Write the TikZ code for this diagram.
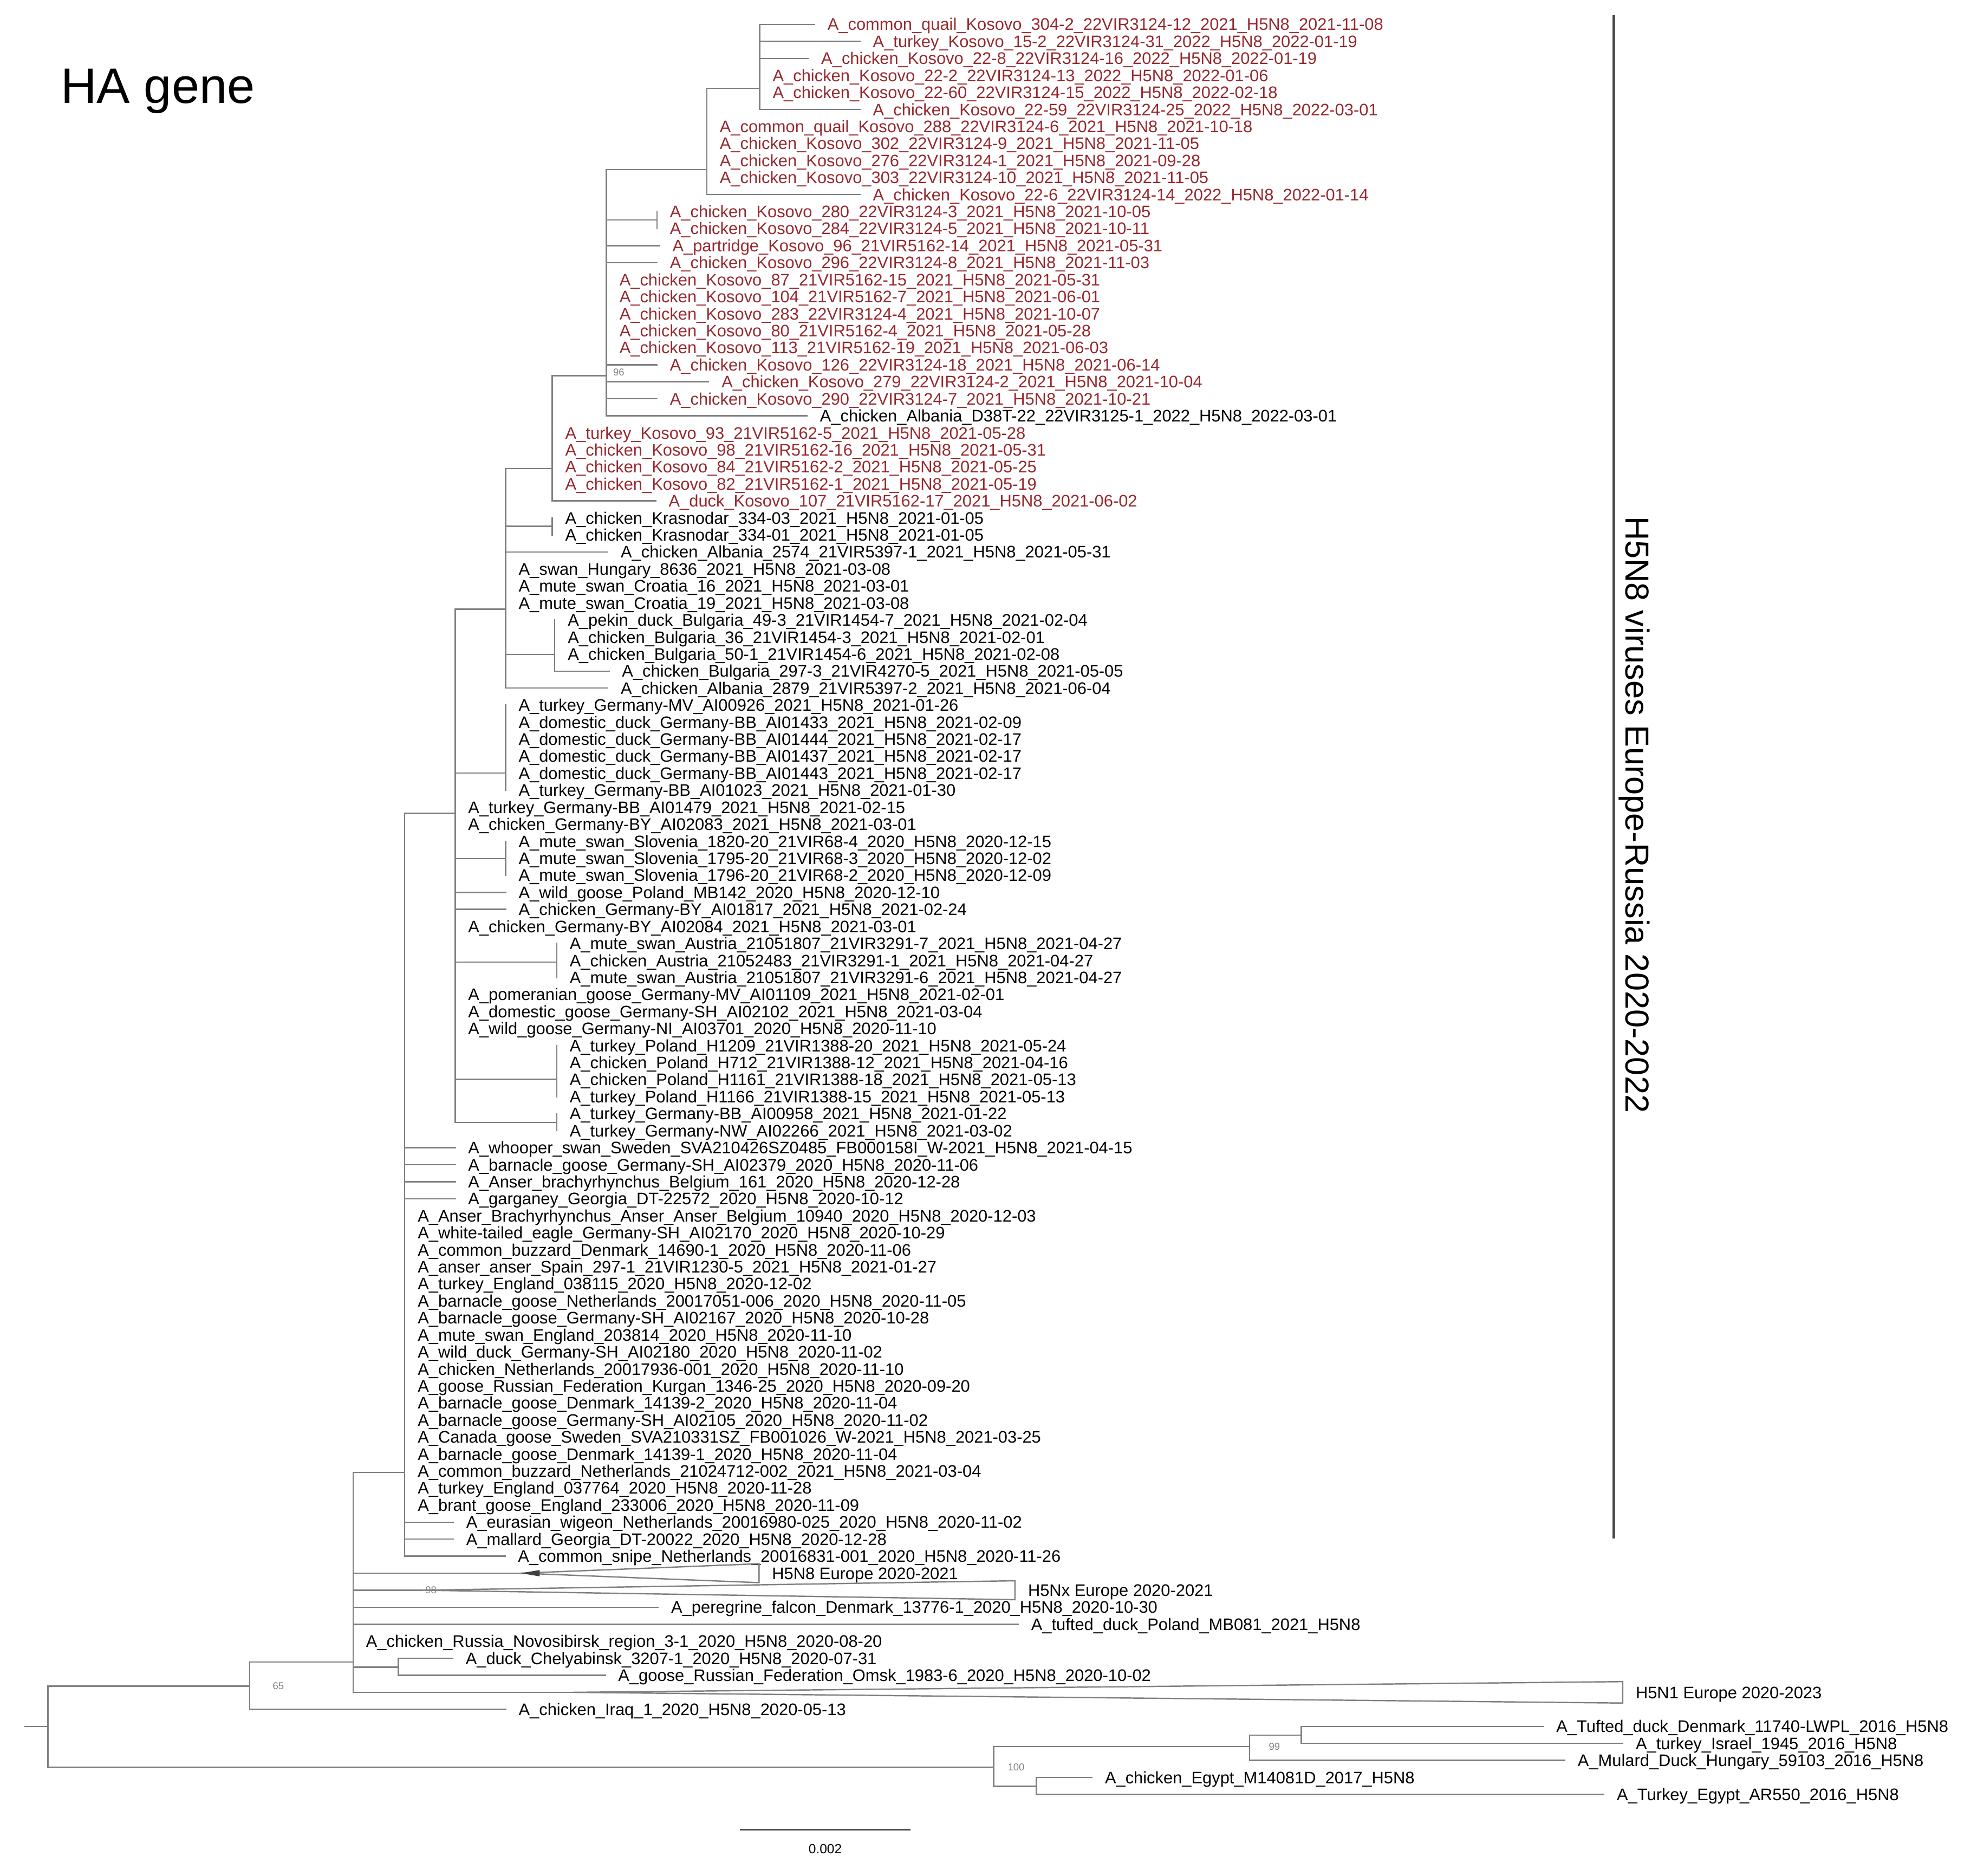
\documentclass[tikz,border=0pt]{standalone}
\usepackage{fontspec}
\setmainfont{Liberation Sans}
\definecolor{kred}{RGB}{150,40,45}
\definecolor{brc}{RGB}{128,128,128}
\newcommand\RY[1]{19.3+(#1-1)*13.497}
\newcommand\lblfont{\fontsize{7.55}{9}\selectfont}
\tikzset{
 lab/.style={anchor=west,inner sep=0pt,text height=5.4pt,text depth=0pt,font=\lblfont},
 kos/.style={text=kred},
 blk/.style={text=black},
 br/.style={draw=brc,line width=0.6pt,line cap=rect},
 tri/.style={draw=brc,line width=0.6pt,line join=miter},
 sup/.style={font=\fontsize{4.5}{5}\selectfont,text=gray,inner sep=0pt},
 barline/.style={draw=black!70,line width=1.1pt},
}
\newcommand\leaf[4]{\coordinate (t#1) at (#2,{\RY{#1}});\node[lab,#3] (l#1) at ([xshift=0.2cm]t#1) {#4};}
\newcommand\br[2]{\draw[br] (#1 |- t#2) -- (t#2);}
\begin{document}
\catcode`\_=12
\begin{tikzpicture}[x=0.02cm,y=-0.02cm]
\useasboundingbox (0,0) rectangle (1568,1487.65);
% ---------------- leaves
\leaf{1}{646}{kos}{A_common_quail_Kosovo_304-2_22VIR3124-12_2021_H5N8_2021-11-08}
\leaf{2}{682}{kos}{A_turkey_Kosovo_15-2_22VIR3124-31_2022_H5N8_2022-01-19}
\leaf{3}{641}{kos}{A_chicken_Kosovo_22-8_22VIR3124-16_2022_H5N8_2022-01-19}
\leaf{4}{602.5}{kos}{A_chicken_Kosovo_22-2_22VIR3124-13_2022_H5N8_2022-01-06}
\leaf{5}{602.5}{kos}{A_chicken_Kosovo_22-60_22VIR3124-15_2022_H5N8_2022-02-18}
\leaf{6}{682}{kos}{A_chicken_Kosovo_22-59_22VIR3124-25_2022_H5N8_2022-03-01}
\leaf{7}{560.5}{kos}{A_common_quail_Kosovo_288_22VIR3124-6_2021_H5N8_2021-10-18}
\leaf{8}{560.5}{kos}{A_chicken_Kosovo_302_22VIR3124-9_2021_H5N8_2021-11-05}
\leaf{9}{560.5}{kos}{A_chicken_Kosovo_276_22VIR3124-1_2021_H5N8_2021-09-28}
\leaf{10}{560.5}{kos}{A_chicken_Kosovo_303_22VIR3124-10_2021_H5N8_2021-11-05}
\leaf{11}{682}{kos}{A_chicken_Kosovo_22-6_22VIR3124-14_2022_H5N8_2022-01-14}
\leaf{12}{521}{kos}{A_chicken_Kosovo_280_22VIR3124-3_2021_H5N8_2021-10-05}
\leaf{13}{521}{kos}{A_chicken_Kosovo_284_22VIR3124-5_2021_H5N8_2021-10-11}
\leaf{14}{523}{kos}{A_partridge_Kosovo_96_21VIR5162-14_2021_H5N8_2021-05-31}
\leaf{15}{521}{kos}{A_chicken_Kosovo_296_22VIR3124-8_2021_H5N8_2021-11-03}
\leaf{16}{481}{kos}{A_chicken_Kosovo_87_21VIR5162-15_2021_H5N8_2021-05-31}
\leaf{17}{481}{kos}{A_chicken_Kosovo_104_21VIR5162-7_2021_H5N8_2021-06-01}
\leaf{18}{481}{kos}{A_chicken_Kosovo_283_22VIR3124-4_2021_H5N8_2021-10-07}
\leaf{19}{481}{kos}{A_chicken_Kosovo_80_21VIR5162-4_2021_H5N8_2021-05-28}
\leaf{20}{481}{kos}{A_chicken_Kosovo_113_21VIR5162-19_2021_H5N8_2021-06-03}
\leaf{21}{521}{kos}{A_chicken_Kosovo_126_22VIR3124-18_2021_H5N8_2021-06-14}
\leaf{22}{562}{kos}{A_chicken_Kosovo_279_22VIR3124-2_2021_H5N8_2021-10-04}
\leaf{23}{521}{kos}{A_chicken_Kosovo_290_22VIR3124-7_2021_H5N8_2021-10-21}
\leaf{24}{640}{blk}{A_chicken_Albania_D38T-22_22VIR3125-1_2022_H5N8_2022-03-01}
\leaf{25}{438}{kos}{A_turkey_Kosovo_93_21VIR5162-5_2021_H5N8_2021-05-28}
\leaf{26}{438}{kos}{A_chicken_Kosovo_98_21VIR5162-16_2021_H5N8_2021-05-31}
\leaf{27}{438}{kos}{A_chicken_Kosovo_84_21VIR5162-2_2021_H5N8_2021-05-25}
\leaf{28}{438}{kos}{A_chicken_Kosovo_82_21VIR5162-1_2021_H5N8_2021-05-19}
\leaf{29}{520}{kos}{A_duck_Kosovo_107_21VIR5162-17_2021_H5N8_2021-06-02}
\leaf{30}{438}{blk}{A_chicken_Krasnodar_334-03_2021_H5N8_2021-01-05}
\leaf{31}{438}{blk}{A_chicken_Krasnodar_334-01_2021_H5N8_2021-01-05}
\leaf{32}{482}{blk}{A_chicken_Albania_2574_21VIR5397-1_2021_H5N8_2021-05-31}
\leaf{33}{401}{blk}{A_swan_Hungary_8636_2021_H5N8_2021-03-08}
\leaf{34}{401}{blk}{A_mute_swan_Croatia_16_2021_H5N8_2021-03-01}
\leaf{35}{401}{blk}{A_mute_swan_Croatia_19_2021_H5N8_2021-03-08}
\leaf{36}{440}{blk}{A_pekin_duck_Bulgaria_49-3_21VIR1454-7_2021_H5N8_2021-02-04}
\leaf{37}{440}{blk}{A_chicken_Bulgaria_36_21VIR1454-3_2021_H5N8_2021-02-01}
\leaf{38}{440}{blk}{A_chicken_Bulgaria_50-1_21VIR1454-6_2021_H5N8_2021-02-08}
\leaf{39}{483}{blk}{A_chicken_Bulgaria_297-3_21VIR4270-5_2021_H5N8_2021-05-05}
\leaf{40}{482}{blk}{A_chicken_Albania_2879_21VIR5397-2_2021_H5N8_2021-06-04}
\leaf{41}{401}{blk}{A_turkey_Germany-MV_AI00926_2021_H5N8_2021-01-26}
\leaf{42}{401}{blk}{A_domestic_duck_Germany-BB_AI01433_2021_H5N8_2021-02-09}
\leaf{43}{401}{blk}{A_domestic_duck_Germany-BB_AI01444_2021_H5N8_2021-02-17}
\leaf{44}{401}{blk}{A_domestic_duck_Germany-BB_AI01437_2021_H5N8_2021-02-17}
\leaf{45}{401}{blk}{A_domestic_duck_Germany-BB_AI01443_2021_H5N8_2021-02-17}
\leaf{46}{401}{blk}{A_turkey_Germany-BB_AI01023_2021_H5N8_2021-01-30}
\leaf{47}{361}{blk}{A_turkey_Germany-BB_AI01479_2021_H5N8_2021-02-15}
\leaf{48}{361}{blk}{A_chicken_Germany-BY_AI02083_2021_H5N8_2021-03-01}
\leaf{49}{401}{blk}{A_mute_swan_Slovenia_1820-20_21VIR68-4_2020_H5N8_2020-12-15}
\leaf{50}{401}{blk}{A_mute_swan_Slovenia_1795-20_21VIR68-3_2020_H5N8_2020-12-02}
\leaf{51}{401}{blk}{A_mute_swan_Slovenia_1796-20_21VIR68-2_2020_H5N8_2020-12-09}
\leaf{52}{401}{blk}{A_wild_goose_Poland_MB142_2020_H5N8_2020-12-10}
\leaf{53}{401}{blk}{A_chicken_Germany-BY_AI01817_2021_H5N8_2021-02-24}
\leaf{54}{361}{blk}{A_chicken_Germany-BY_AI02084_2021_H5N8_2021-03-01}
\leaf{55}{441.5}{blk}{A_mute_swan_Austria_21051807_21VIR3291-7_2021_H5N8_2021-04-27}
\leaf{56}{441.5}{blk}{A_chicken_Austria_21052483_21VIR3291-1_2021_H5N8_2021-04-27}
\leaf{57}{441.5}{blk}{A_mute_swan_Austria_21051807_21VIR3291-6_2021_H5N8_2021-04-27}
\leaf{58}{361}{blk}{A_pomeranian_goose_Germany-MV_AI01109_2021_H5N8_2021-02-01}
\leaf{59}{361}{blk}{A_domestic_goose_Germany-SH_AI02102_2021_H5N8_2021-03-04}
\leaf{60}{361}{blk}{A_wild_goose_Germany-NI_AI03701_2020_H5N8_2020-11-10}
\leaf{61}{441.5}{blk}{A_turkey_Poland_H1209_21VIR1388-20_2021_H5N8_2021-05-24}
\leaf{62}{441.5}{blk}{A_chicken_Poland_H712_21VIR1388-12_2021_H5N8_2021-04-16}
\leaf{63}{441.5}{blk}{A_chicken_Poland_H1161_21VIR1388-18_2021_H5N8_2021-05-13}
\leaf{64}{441.5}{blk}{A_turkey_Poland_H1166_21VIR1388-15_2021_H5N8_2021-05-13}
\leaf{65}{441.5}{blk}{A_turkey_Germany-BB_AI00958_2021_H5N8_2021-01-22}
\leaf{66}{441.5}{blk}{A_turkey_Germany-NW_AI02266_2021_H5N8_2021-03-02}
\leaf{67}{361}{blk}{A_whooper_swan_Sweden_SVA210426SZ0485_FB000158I_W-2021_H5N8_2021-04-15}
\leaf{68}{361}{blk}{A_barnacle_goose_Germany-SH_AI02379_2020_H5N8_2020-11-06}
\leaf{69}{361}{blk}{A_Anser_brachyrhynchus_Belgium_161_2020_H5N8_2020-12-28}
\leaf{70}{361}{blk}{A_garganey_Georgia_DT-22572_2020_H5N8_2020-10-12}
\leaf{71}{321}{blk}{A_Anser_Brachyrhynchus_Anser_Anser_Belgium_10940_2020_H5N8_2020-12-03}
\leaf{72}{321}{blk}{A_white-tailed_eagle_Germany-SH_AI02170_2020_H5N8_2020-10-29}
\leaf{73}{321}{blk}{A_common_buzzard_Denmark_14690-1_2020_H5N8_2020-11-06}
\leaf{74}{321}{blk}{A_anser_anser_Spain_297-1_21VIR1230-5_2021_H5N8_2021-01-27}
\leaf{75}{321}{blk}{A_turkey_England_038115_2020_H5N8_2020-12-02}
\leaf{76}{321}{blk}{A_barnacle_goose_Netherlands_20017051-006_2020_H5N8_2020-11-05}
\leaf{77}{321}{blk}{A_barnacle_goose_Germany-SH_AI02167_2020_H5N8_2020-10-28}
\leaf{78}{321}{blk}{A_mute_swan_England_203814_2020_H5N8_2020-11-10}
\leaf{79}{321}{blk}{A_wild_duck_Germany-SH_AI02180_2020_H5N8_2020-11-02}
\leaf{80}{321}{blk}{A_chicken_Netherlands_20017936-001_2020_H5N8_2020-11-10}
\leaf{81}{321}{blk}{A_goose_Russian_Federation_Kurgan_1346-25_2020_H5N8_2020-09-20}
\leaf{82}{321}{blk}{A_barnacle_goose_Denmark_14139-2_2020_H5N8_2020-11-04}
\leaf{83}{321}{blk}{A_barnacle_goose_Germany-SH_AI02105_2020_H5N8_2020-11-02}
\leaf{84}{321}{blk}{A_Canada_goose_Sweden_SVA210331SZ_FB001026_W-2021_H5N8_2021-03-25}
\leaf{85}{321}{blk}{A_barnacle_goose_Denmark_14139-1_2020_H5N8_2020-11-04}
\leaf{86}{321}{blk}{A_common_buzzard_Netherlands_21024712-002_2021_H5N8_2021-03-04}
\leaf{87}{321}{blk}{A_turkey_England_037764_2020_H5N8_2020-11-28}
\leaf{88}{321}{blk}{A_brant_goose_England_233006_2020_H5N8_2020-11-09}
\leaf{89}{359.5}{blk}{A_eurasian_wigeon_Netherlands_20016980-025_2020_H5N8_2020-11-02}
\leaf{90}{359.5}{blk}{A_mallard_Georgia_DT-20022_2020_H5N8_2020-12-28}
\leaf{91}{400.5}{blk}{A_common_snipe_Netherlands_20016831-001_2020_H5N8_2020-11-26}
\leaf{92}{602}{blk}{H5N8 Europe 2020-2021}
\leaf{93}{805}{blk}{H5Nx Europe 2020-2021}
\leaf{94}{522}{blk}{A_peregrine_falcon_Denmark_13776-1_2020_H5N8_2020-10-30}
\leaf{95}{807.5}{blk}{A_tufted_duck_Poland_MB081_2021_H5N8}
\leaf{96}{280}{blk}{A_chicken_Russia_Novosibirsk_region_3-1_2020_H5N8_2020-08-20}
\leaf{97}{359}{blk}{A_duck_Chelyabinsk_3207-1_2020_H5N8_2020-07-31}
\leaf{98}{480}{blk}{A_goose_Russian_Federation_Omsk_1983-6_2020_H5N8_2020-10-02}
\leaf{99}{1287}{blk}{H5N1 Europe 2020-2023}
\leaf{100}{401}{blk}{A_chicken_Iraq_1_2020_H5N8_2020-05-13}
\leaf{101}{1224}{blk}{A_Tufted_duck_Denmark_11740-LWPL_2016_H5N8}
\leaf{102}{1287}{blk}{A_turkey_Israel_1945_2016_H5N8}
\leaf{103}{1241}{blk}{A_Mulard_Duck_Hungary_59103_2016_H5N8}
\leaf{104}{866}{blk}{A_chicken_Egypt_M14081D_2017_H5N8}
\leaf{105}{1272}{blk}{A_Turkey_Egypt_AR550_2016_H5N8}
% ---------------- internal nodes
\coordinate (n602) at (602.5,70);
\coordinate (n560) at (560.5,134.5);
\coordinate (n521) at (521,174.5);
\coordinate (n481) at (481,298);
\coordinate (n438) at (438,371.6);
\coordinate (nK) at (438,417.4);
\coordinate (nB) at (440,519);
\coordinate (n401) at (401,483);
\coordinate (nG) at (401,613);
\coordinate (nS) at (401,681);
\coordinate (nA) at (441.5,763);
\coordinate (nP) at (441.5,856);
\coordinate (nG2) at (441.5,890);
\coordinate (n361) at (361,645);
\coordinate (n321) at (321,1167.6);
\coordinate (nC) at (316,1322);
\coordinate (n280) at (280,1318);
\coordinate (n200) at (198,1337);
\coordinate (n38) at (38,1369);
\coordinate (rootstub) at (20,1369);
\coordinate (n788) at (788,1401.5);
\coordinate (n991) at (991,1385);
\coordinate (n1032) at (1032,1376);
\coordinate (n822) at (822,1416.5);
\coordinate (a92) at (413,{\RY{92}});
\coordinate (a93) at (335,{\RY{93}});
\coordinate (a99) at (455,{\RY{99}});
% ---------------- branches
\draw[br] (n602|-t1) -- (n602|-t6);
\br{n602}{1}\br{n602}{2}\br{n602}{3}\br{n602}{6}
\draw[br] (n560|-n602) -- (n602);
\draw[br] (n560|-n602) -- (n560|-t11);
\br{n560}{11}
\draw[br] (n481|-n560) -- (n560);
\draw[br] (n521|-t12) -- (n521|-t13);
\draw[br] (n481|-n521) -- (n521);
\draw[br] (n481|-n560) -- (n481|-t24);
\br{n481}{14}\br{n481}{15}\br{n481}{21}\br{n481}{22}\br{n481}{23}\br{n481}{24}
\draw[br] (n438|-n481) -- (n481);
\draw[br] (n438|-n481) -- (n438|-t29);
\br{n438}{29}
\draw[br] (n401|-n438) -- (n438);
\draw[br] (nK|-t30) -- (nK|-t31);
\draw[br] (n401|-nK) -- (nK);
\draw[br] (nB|-t36) -- (nB|-t39);
\br{nB}{39}
\draw[br] (n401|-nB) -- (nB);
\draw[br] (n401|-n438) -- (n401|-t40);
\br{n401}{32}\br{n401}{40}
\draw[br] (n361|-n401) -- (n401);
\draw[br] (nG|-t41) -- (nG|-t46);
\draw[br] (n361|-nG) -- (nG);
\draw[br] (nS|-t49) -- (nS|-t51);
\draw[br] (n361|-nS) -- (nS);
\br{n361}{52}\br{n361}{53}
\draw[br] (nA|-t55) -- (nA|-t57);
\draw[br] (n361|-nA) -- (nA);
\draw[br] (nP|-t61) -- (nP|-t64);
\draw[br] (n361|-nP) -- (nP);
\draw[br] (nG2|-t65) -- (nG2|-t66);
\draw[br] (n361|-nG2) -- (nG2);
\draw[br] (n361|-n401) -- (n361|-nG2);
\draw[br] (n321|-n361) -- (n361);
\draw[br] (n321|-n361) -- (n321|-t91);
\br{n321}{67}\br{n321}{68}\br{n321}{69}\br{n321}{70}
\br{n321}{89}\br{n321}{90}\br{n321}{91}
\draw[br] (n280|-n321) -- (n321);
% collapsed clades
\draw[br] (n280|-a92) -- (a92);
\draw[tri] (a92) -- ([yshift=0.15cm]t92) -- ([yshift=-0.15cm]t92) -- cycle;
\fill[black!75] (a92) -- ([shift={(0.3cm,0.05cm)}]a92) -- ([shift={(0.3cm,-0.05cm)}]a92) -- cycle;
\draw[br] (n280|-a93) -- (a93);
\draw[tri] (a93) -- ([yshift=0.15cm]t93) -- ([yshift=-0.15cm]t93) -- cycle;
\draw[br] (n280|-a99) -- (a99);
\draw[tri] (a99) -- ([yshift=0.17cm]t99) -- ([yshift=-0.17cm]t99) -- cycle;
\br{n280}{94}\br{n280}{95}
\draw[br] (nC|-t97) -- (nC|-t98);
\br{nC}{97}\br{nC}{98}
\draw[br] (n280|-nC) -- (nC);
\draw[br] (n280|-n321) -- (n280|-a99);
\draw[br] (n200|-n280) -- (n280);
\draw[br] (n200|-n280) -- (n200|-t100);
\br{n200}{100}
\draw[br] (n38|-n200) -- (n200);
\draw[br] (n38|-n200) -- (n38|-n788);
\draw[br] (n38|-n788) -- (n788);
\draw[br] (rootstub) -- (n38);
\draw[br] (n788|-n991) -- (n788|-n822);
\draw[br] (n788|-n991) -- (n991);
\draw[br] (n788|-n822) -- (n822);
\draw[br] (n991|-n1032) -- (n991|-t103);
\br{n991}{103}
\draw[br] (n991|-n1032) -- (n1032);
\draw[br] (n1032|-t101) -- (n1032|-t102);
\br{n1032}{101}\br{n1032}{102}
\draw[br] (n822|-t104) -- (n822|-t105);
\br{n822}{104}\br{n822}{105}
% support values
\node[sup,anchor=west] (s200) at ([xshift=0.36cm]n200) {65};
\node[sup,anchor=west] (s788) at ([xshift=0.22cm]n788) {100};
\node[sup,anchor=west] (s991) at ([xshift=0.3cm]n991) {99};
\node[sup,anchor=west] (s93) at ([xshift=0.04cm]a93) {98};
\node[sup,anchor=west] (s481) at ([shift={(0.1cm,0.06cm)}]n481) {96};
% right bar and clade label
\coordinate (bt) at (1280,12);
\coordinate (bb) at (1280,1220);
\draw[barline] (bt) -- (bb);
\node[rotate=-90,inner sep=0pt,font=\fontsize{15}{18}\selectfont] (clade) at (1296,646) {H5N8 viruses Europe-Russia 2020-2022};
% title
\node[anchor=base west,inner sep=0pt,font=\fontsize{22.5}{27}\selectfont] (title) at (48,82) {HA gene};
% scale bar
\coordinate (sb0) at (587,1451);
\coordinate (sb1) at (722,1451);
\draw[draw=black!70,line width=0.6pt] (sb0) -- (sb1);
\node[inner sep=0pt,font=\fontsize{6}{7}\selectfont] (sbl) at (654.5,1466) {0.002};
\end{tikzpicture}
\end{document}
